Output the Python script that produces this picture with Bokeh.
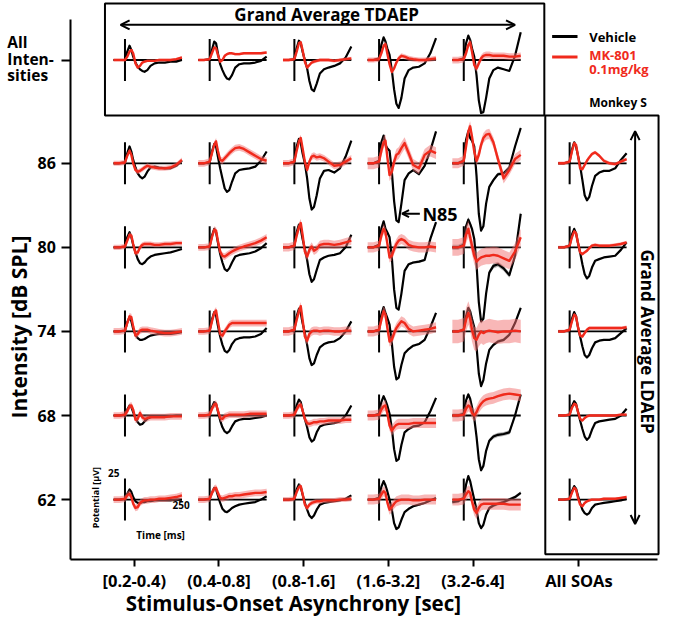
from math import pi
from bokeh.plotting import figure
from bokeh.models import Label, Arrow, OpenHead, FixedTicker, BoxAnnotation
from bokeh.embed import file_html
from bokeh.resources import INLINE

# ---------------- data ----------------
soa_labels = ["[0.2-0.4)", "(0.4-0.8]", "(0.8-1.6]", "(1.6-3.2]", "(3.2-6.4]", "All SOAs"]
soa_pos = [1, 2, 3, 4, 5, 6.25]
intensities = [86, 80, 74, 68, 62]
all_int_pos = 93.37
time_ms = [-50, -25, 0, 10, 20, 28, 36, 46, 56, 66, 76, 86, 98, 112, 130, 150, 175, 200, 225, 250]

# Grand average TDAEP (all intensities), 5 SOA columns (uV)
veh_all = [
    [0, 0, 0, 10, 17, 12, 4, -3, -8, -11, -13, -14, -12, -7, -4, -3, -3, -2, -2, 0],
    [0, 0, 1, 12, 22, 20, 8, -5, -12, -18, -22, -23, -18, -9, -5, -4, -4, -3, -1, 4],
    [0, 0, 1, 14, 23, 20, 10, 0, -10, -25, -35, -37, -28, -16, -11, -9, -7, -4, 3, 16],
    [0, 0, 2, 18, 27, 22, 14, 6, -12, -35, -52, -57, -45, -22, -12, -9, -8, -4, 8, 26],
    [0, 0, 2, 20, 29, 24, 14, 4, -18, -48, -63, -62, -45, -22, -12, -9, -11, -13, 5, 33],
]
mk_all = [
    [0, 0, 0, 4, 10, 12, 8, -4, -9, -7, -3, -2, -1, -1, -1, 0, 0, 0, 1, 3],
    [0, 0, 1, 8, 15, 14, 6, -2, 0, 5, 7, 8, 8, 7, 7, 8, 8, 8, 8, 9],
    [0, 0, 1, 10, 20, 21, 12, -2, -9, -6, -3, -2, -1, 0, 0, 0, -1, 0, 1, 2],
    [0, 0, 1, 8, 17, 19, 8, -5, -14, -10, -3, 2, 5, 4, 2, 1, 0, 0, 1, 2],
    [0, 0, 1, 8, 18, 21, 10, -6, -10, -4, 2, 5, 6, 6, 5, 5, 5, 4, 4, 5],
]
veh_sem_all = [0.5, 0.5, 0.5, 0.6, 0.7]
mk_sem_all = [1.5, 1.5, 2, 3, 4]

# intensity rows, 6 columns (5 SOA bins + All SOAs)
veh_86 = [
    [0, 0, 1, 12, 20, 14, 4, -5, -12, -16, -18, -16, -10, -5, -4, -5, -6, -6, -3, 3],
    [0, 0, 1, 14, 23, 20, 8, -6, -18, -30, -34, -32, -22, -12, -8, -7, -6, -4, 3, 14],
    [0, 0, 2, 20, 29, 24, 12, 0, -18, -42, -55, -52, -38, -18, -9, -8, -11, -6, 8, 27],
    [0, 0, 3, 25, 33, 22, 18, 15, -10, -45, -68, -70, -48, -20, -12, -8, -13, -3, 15, 38],
    [0, 0, 3, 28, 38, 30, 27, 20, -15, -60, -80, -75, -48, -28, -20, -13, -12, -5, 20, 42],
    [0, 0, 2, 16, 25, 20, 10, -3, -20, -38, -44, -40, -27, -15, -11, -9, -9, -6, 4, 12],
]
mk_86 = [
    [0, 0, 1, 9, 15, 10, 0, -8, -10, -9, -7, -5, -3, -4, -5, -6, -6, -5, -2, 4],
    [0, 0, 2, 12, 22, 26, 15, 4, 3, 6, 9, 12, 15, 18, 19, 17, 13, 9, 5, 3],
    [0, 0, 2, 15, 26, 30, 18, 2, -8, 2, 8, 9, 7, 8, 6, 2, -3, -2, 2, 6],
    [0, 0, 2, 15, 25, 27, 8, -14, -10, 2, 10, 12, 18, 24, 12, -2, -6, 10, 15, 12],
    [0, 0, 3, 20, 38, 44, 32, 14, 3, 10, 22, 30, 34, 35, 25, 5, -18, -8, 5, 10],
    [0, 0, 2, 14, 24, 22, 10, -6, -7, -2, 3, 7, 11, 13, 9, 3, 0, -1, 2, 5],
]
veh_80 = [
    [0, 0, 1, 12, 18, 12, 3, -6, -14, -19, -20, -18, -14, -11, -9, -8, -7, -6, -4, -2],
    [0, 0, 1, 14, 22, 18, 6, -8, -18, -26, -28, -25, -18, -11, -9, -8, -7, -5, -1, 5],
    [0, 0, 2, 18, 27, 22, 10, -2, -15, -32, -41, -38, -27, -15, -12, -10, -9, -7, 0, 15],
    [0, 0, 3, 22, 31, 22, 18, 12, -12, -50, -72, -74, -55, -28, -20, -18, -17, -15, 10, 30],
    [0, 0, 3, 25, 33, 28, 22, 10, -20, -65, -88, -85, -55, -30, -22, -20, -25, -33, -10, 40],
    [0, 0, 2, 15, 22, 17, 6, -6, -20, -32, -37, -34, -24, -16, -14, -12, -11, -10, -3, 6],
]
mk_80 = [
    [0, 0, 1, 8, 15, 14, 4, -7, -6, 0, 3, 4, 4, 4, 3, 3, 4, 4, 5, 5],
    [0, 0, 1, 12, 21, 20, 8, -5, -10, -11, -9, -7, -5, -3, -1, 1, 3, 5, 8, 12],
    [0, 0, 2, 14, 24, 29, 15, -5, -11, -3, 1, -4, -2, 3, 4, 4, 3, 4, 6, 8],
    [0, 0, 2, 14, 22, 18, 5, -12, -10, -2, 4, 8, 10, 8, 3, 1, 0, 0, 1, 0],
    [0, 0, 2, 15, 22, 12, 2, -10, -17, -14, -12, -11, -10, -10, -9, -10, -13, -16, -5, 12],
    [0, 0, 2, 12, 19, 17, 6, -6, -8, -6, -4, -1, 2, 3, 2, 2, 2, 3, 4, 6],
]
veh_74 = [
    [0, 0, 1, 11, 17, 12, 3, -4, -8, -10, -10, -9, -7, -5, -4, -3, -3, -3, -2, -1],
    [0, 0, 1, 14, 23, 19, 7, -6, -16, -23, -25, -22, -15, -10, -8, -7, -7, -6, -3, 4],
    [0, 0, 2, 18, 27, 22, 10, -2, -16, -32, -40, -38, -28, -19, -15, -13, -12, -8, 0, 12],
    [0, 0, 2, 20, 29, 22, 16, 8, -14, -42, -57, -55, -40, -26, -21, -17, -15, -10, 5, 22],
    [0, 0, 2, 18, 28, 24, 15, 5, -18, -50, -65, -58, -38, -22, -16, -12, -10, -4, 10, 28],
    [0, 0, 2, 15, 23, 18, 6, -6, -18, -28, -31, -28, -20, -13, -11, -10, -10, -8, -2, 4],
]
mk_74 = [
    [0, 0, 1, 10, 18, 17, 6, -5, -3, 1, 2, 2, 2, 1, 0, -1, -2, -2, -1, 0],
    [0, 0, 1, 12, 22, 25, 12, -3, -5, 0, 4, 8, 10, 10, 10, 10, 10, 10, 10, 10],
    [0, 0, 2, 14, 24, 30, 14, -6, -11, -3, 0, 1, 1, 0, 1, 1, 0, 0, 1, 1],
    [0, 0, 2, 14, 24, 20, 5, -12, -10, -2, 4, 8, 12, 10, 3, 0, 1, 2, 3, 5],
    [0, 0, 2, 14, 22, 15, 2, -8, -10, -4, 0, -2, 0, 1, 0, -1, 0, 0, 1, 0],
    [0, 0, 2, 12, 20, 18, 6, -5, -6, -2, 2, 4, 4, 4, 4, 4, 4, 4, 4, 5],
]
veh_68 = [
    [0, 0, 1, 7, 12, 10, 4, -3, -8, -11, -10, -7, -4, -2, -1, -1, -1, -1, 0, 0],
    [0, 0, 1, 10, 16, 14, 5, -6, -14, -19, -21, -19, -13, -7, -5, -4, -4, -3, -2, 0],
    [0, 0, 1, 12, 19, 16, 6, -4, -14, -26, -31, -29, -20, -13, -11, -10, -9, -7, 0, 12],
    [0, 0, 2, 16, 23, 18, 12, 2, -15, -40, -54, -52, -35, -20, -16, -13, -12, -8, 5, 21],
    [0, 0, 2, 18, 25, 20, 10, -3, -25, -52, -65, -60, -42, -30, -25, -23, -22, -20, 0, 25],
    [0, 0, 1, 11, 17, 14, 5, -6, -16, -25, -29, -26, -17, -9, -7, -6, -5, -4, 0, 8],
]
mk_68 = [
    [0, 0, 1, 5, 11, 12, 7, -5, -4, 3, -2, -4, -3, -2, -2, -2, -2, -1, -1, -1],
    [0, 0, 1, 8, 13, 14, 6, -3, -4, -1, 0, 1, 1, 1, 1, 1, 2, 2, 2, 2],
    [0, 0, 1, 7, 12, 13, 6, -4, -9, -10, -9, -8, -8, -7, -7, -6, -6, -6, -5, -5],
    [0, 0, 1, 7, 11, 12, 3, -12, -18, -14, -11, -10, -10, -10, -10, -9, -9, -9, -9, -9],
    [0, 0, 1, 8, 12, 10, 3, 0, 4, 10, 14, 17, 19, 20, 21, 23, 25, 26, 25, 24],
    [0, 0, 1, 9, 14, 13, 5, -4, -6, -3, -1, 0, 0, 0, 0, 0, 0, 0, 1, 1],
]
veh_62 = [
    [0, 0, 1, 7, 12, 9, 3, -2, -4, -4, -3, -3, -2, -2, -1, -1, -1, -1, 0, 0],
    [0, 0, 1, 8, 14, 12, 5, -4, -11, -14, -15, -13, -10, -8, -6, -5, -4, -3, 0, 4],
    [0, 0, 1, 12, 18, 15, 6, -4, -12, -19, -22, -19, -12, -6, -4, -3, -2, -1, 1, 5],
    [0, 0, 2, 15, 22, 17, 10, 0, -12, -28, -35, -33, -24, -15, -11, -8, -6, -4, -1, 2],
    [-3, -2, 2, 18, 28, 22, 12, 0, -12, -28, -34, -30, -18, -10, -7, -5, -3, 0, 3, 8],
    [0, 0, 1, 10, 16, 13, 5, -4, -12, -16, -18, -16, -10, -6, -5, -4, -3, -2, -1, 1],
]
mk_62 = [
    [0, 0, 1, 5, 7, 3, -5, -10, -9, -4, -2, -1, -1, 0, 0, 1, 1, 2, 3, 5],
    [0, 0, 1, 8, 13, 14, 8, 2, 1, 2, 3, 4, 4, 5, 5, 6, 7, 8, 8, 9],
    [0, 0, 1, 9, 15, 16, 7, -6, -10, -6, -4, -3, -2, -2, -1, -1, -1, 0, 0, 1],
    [0, 0, 1, 6, 10, 8, -3, -12, -9, -5, -2, -1, 0, 0, 0, -1, -1, 0, 0, 0],
    [0, 0, 1, 6, 10, 8, -2, -12, -16, -10, -6, -5, -5, -5, -5, -5, -5, -6, -6, -6],
    [0, 0, 1, 8, 14, 12, 3, -6, -8, -4, -2, -1, 0, 0, 0, 1, 1, 1, 2, 3],
]
veh_sem_86 = [0.6, 0.6, 0.8, 1.2, 2, 0.5]
veh_sem_80 = [0.6, 0.6, 0.8, 1.5, 3, 0.5]
veh_sem_74 = [0.6, 0.6, 0.8, 1.5, 2, 0.5]
veh_sem_68 = [0.6, 0.6, 0.8, 1.2, 2.5, 0.5]
veh_sem_62 = [0.6, 0.6, 0.8, 1.2, 2, 0.5]
mk_sem_86 = [3, 4, 4, 7, 6, 2]
mk_sem_80 = [3, 4, 5, 6, 10, 2]
mk_sem_74 = [4, 4, 5, 6, 14, 2]
mk_sem_68 = [4, 4, 4, 6, 7, 1.5]
mk_sem_62 = [4, 4, 3, 6, 7, 1.5]

# ---------------- layout ----------------
W, H = 660, 618


def X(px):  # reference-picture pixel -> data x (annotation placement)
    return 1 + (px - 137) / 86.75


def Y(py):  # reference-picture pixel -> data y
    return 62 + (512 - py) / 14.375


T_SCALE = 0.00269   # x units per ms inside a panel
T_SHIFT = -0.1095   # stimulus onset offset from column tick
V_SCALE = 0.06      # y units per uV
BAR_UV = 25

FONT = "Open Sans"
RED = "#f02a1c"

p = figure(width=W, height=H, x_range=(X(0), X(676)), y_range=(Y(634), Y(0)),
           output_backend="svg", toolbar_location=None,
           min_border_left=0, min_border_right=0, min_border_top=0,
           min_border_bottom=0)
p.outline_line_color = None
p.grid.visible = False
p.background_fill_color = "white"
p.border_fill_color = "white"

rows = [(all_int_pos, veh_all, mk_all, veh_sem_all, mk_sem_all),
        (86, veh_86, mk_86, veh_sem_86, mk_sem_86),
        (80, veh_80, mk_80, veh_sem_80, mk_sem_80),
        (74, veh_74, mk_74, veh_sem_74, mk_sem_74),
        (68, veh_68, mk_68, veh_sem_68, mk_sem_68),
        (62, veh_62, mk_62, veh_sem_62, mk_sem_62)]

base_xs, base_ys = [], []
bar_x, bar_y0, bar_y1 = [], [], []
vx, vy, vbx, vby = [], [], [], []
mx, my, mbx, mby = [], [], [], []

for y0, vrow, mrow, vsem, msem in rows:
    for ci, (vw, mw) in enumerate(zip(vrow, mrow)):
        c = soa_pos[ci]
        xs = [c + T_SHIFT + t * T_SCALE for t in time_ms]
        base_xs.append([xs[0], xs[-1]])
        base_ys.append([y0, y0])
        bar_x.append(c + T_SHIFT)
        bar_y0.append(y0 - BAR_UV * V_SCALE)
        bar_y1.append(y0 + BAR_UV * V_SCALE)
        for w, sem, lx, ly, bx, by in ((vw, vsem[ci], vx, vy, vbx, vby),
                                        (mw, msem[ci], mx, my, mbx, mby)):
            ys = [y0 + v * V_SCALE for v in w]
            lx.append(xs)
            ly.append(ys)
            up = [y0 + (v + sem) * V_SCALE for v in w]
            dn = [y0 + (v - sem) * V_SCALE for v in w]
            bx.append(xs + xs[::-1])
            by.append(up + dn[::-1])

p.multi_line(base_xs, base_ys, line_color="black", line_width=1.8)
p.segment(bar_x, bar_y0, bar_x, bar_y1, line_color="black", line_width=2)
p.patches(vbx, vby, fill_color="#555555", fill_alpha=0.45, line_color=None)
p.multi_line(vx, vy, line_color="black", line_width=2.2, line_join="round")
p.patches(mbx, mby, fill_color="#f27070", fill_alpha=0.5, line_color=None)
p.multi_line(mx, my, line_color=RED, line_width=2.4, line_join="round")

# ---------------- axes (positioned inside the canvas) ----------------
for ax in (p.xaxis[0], p.yaxis[0]):
    ax.axis_line_width = 2
    ax.axis_line_color = "black"
    ax.major_tick_line_width = 2
    ax.major_tick_line_color = "black"
    ax.major_tick_in = 0
    ax.minor_tick_line_color = None
    ax.major_label_text_font = FONT
    ax.major_label_text_font_style = "bold"
    ax.major_label_text_color = "black"

p.xaxis.fixed_location = Y(573)
p.xaxis.bounds = (X(72), X(673))
p.xaxis.ticker = FixedTicker(ticks=soa_pos)
p.xaxis.major_label_overrides = {k: v for k, v in zip(soa_pos, soa_labels)}
p.xaxis.major_label_text_font_size = "16.5px"
p.xaxis.major_tick_out = 7
p.xaxis.major_label_standoff = 3

p.yaxis.fixed_location = X(72)
p.yaxis.bounds = (Y(573), Y(20))
p.yaxis.ticker = FixedTicker(ticks=intensities + [all_int_pos])
ylab = {k: str(k) for k in intensities}
ylab[all_int_pos] = ""
p.yaxis.major_label_overrides = ylab
p.yaxis.major_label_text_font_size = "16px"
p.yaxis.major_tick_out = 9
p.yaxis.major_label_standoff = 6


def lab(x, y, text, size, color="black", align="left", angle=0.0, baseline="middle"):
    p.add_layout(Label(x=x, y=y, text=text, text_font=FONT, text_font_style="bold",
                       text_font_size=size, text_color=color, text_align=align,
                       text_baseline=baseline, angle=angle))


# "All Intensities" tick label (three lines, left aligned)
for txt, py in (("All", 43), ("Inten-", 60), ("sities", 76)):
    lab(X(7), Y(py), txt, "15.5px")

# axis titles
lab(X(19), Y(335), "Intensity [dB SPL]", "21px", align="center", angle=pi / 2)
lab(X(300), Y(618), "Stimulus-Onset Asynchrony [sec]", "20.5px", align="center")

# top box: grand average TDAEP
p.add_layout(BoxAnnotation(left=X(107), right=X(557), bottom=Y(118), top=Y(3),
                           fill_alpha=0, line_color="black", line_alpha=1, line_width=2))
p.add_layout(Arrow(x_start=X(123), x_end=X(527), y_start=Y(25), y_end=Y(25),
                   line_width=2, line_color="black",
                   start=OpenHead(size=9, line_width=2), end=OpenHead(size=9, line_width=2)))
lab(X(334), Y(14), "Grand Average TDAEP", "17px", align="center")

# right box: grand average LDAEP
p.add_layout(BoxAnnotation(left=X(558), right=X(674), bottom=Y(568), top=Y(118),
                           fill_alpha=0, line_color="black", line_alpha=1, line_width=2))
p.add_layout(Arrow(x_start=X(650), x_end=X(650), y_start=Y(134), y_end=Y(537),
                   line_width=2, line_color="black",
                   start=OpenHead(size=9, line_width=2), end=OpenHead(size=9, line_width=2)))
lab(X(663), Y(350), "Grand Average LDAEP", "17px", align="center", angle=-pi / 2)

# legend
p.add_layout(Arrow(x_start=X(565), x_end=X(591), y_start=Y(37), y_end=Y(37),
                   line_width=3, line_color="black", end=None))
p.add_layout(Arrow(x_start=X(565), x_end=X(591), y_start=Y(58), y_end=Y(58),
                   line_width=3, line_color=RED, end=None))
lab(X(603), Y(37), "Vehicle", "13px")
lab(X(603), Y(56), "MK-801", "13px", color=RED)
lab(X(603), Y(70), "0.1mg/kg", "13px", color=RED)
lab(X(603), Y(105), "Monkey S", "12px")

# N85 marker, pointing at the deepest vehicle trough of row 86, column (1.6-3.2]
n_idx = veh_86[3].index(min(veh_86[3]))
tip_x = soa_pos[3] + T_SHIFT + time_ms[n_idx] * T_SCALE + 0.04
tip_y = 86 + min(veh_86[3]) * V_SCALE + 0.6
p.add_layout(Arrow(x_start=tip_x + 0.21, x_end=tip_x, y_start=tip_y, y_end=tip_y,
                   line_width=2, line_color="black", end=OpenHead(size=7, line_width=2)))
lab(tip_x + 0.24, tip_y, "N85", "18px")

# inset scale labels (row 62, first column)
lab(X(116), Y(485), "25", "10px", align="center")
lab(X(185), Y(518), "250", "10px", align="center")
lab(X(97), Y(510), "Potential [\u00b5V]", "9px", align="center", angle=pi / 2)
lab(X(164), Y(548), "Time [ms]", "10px", align="center")

open("out.html", "w").write(file_html(p, INLINE))
